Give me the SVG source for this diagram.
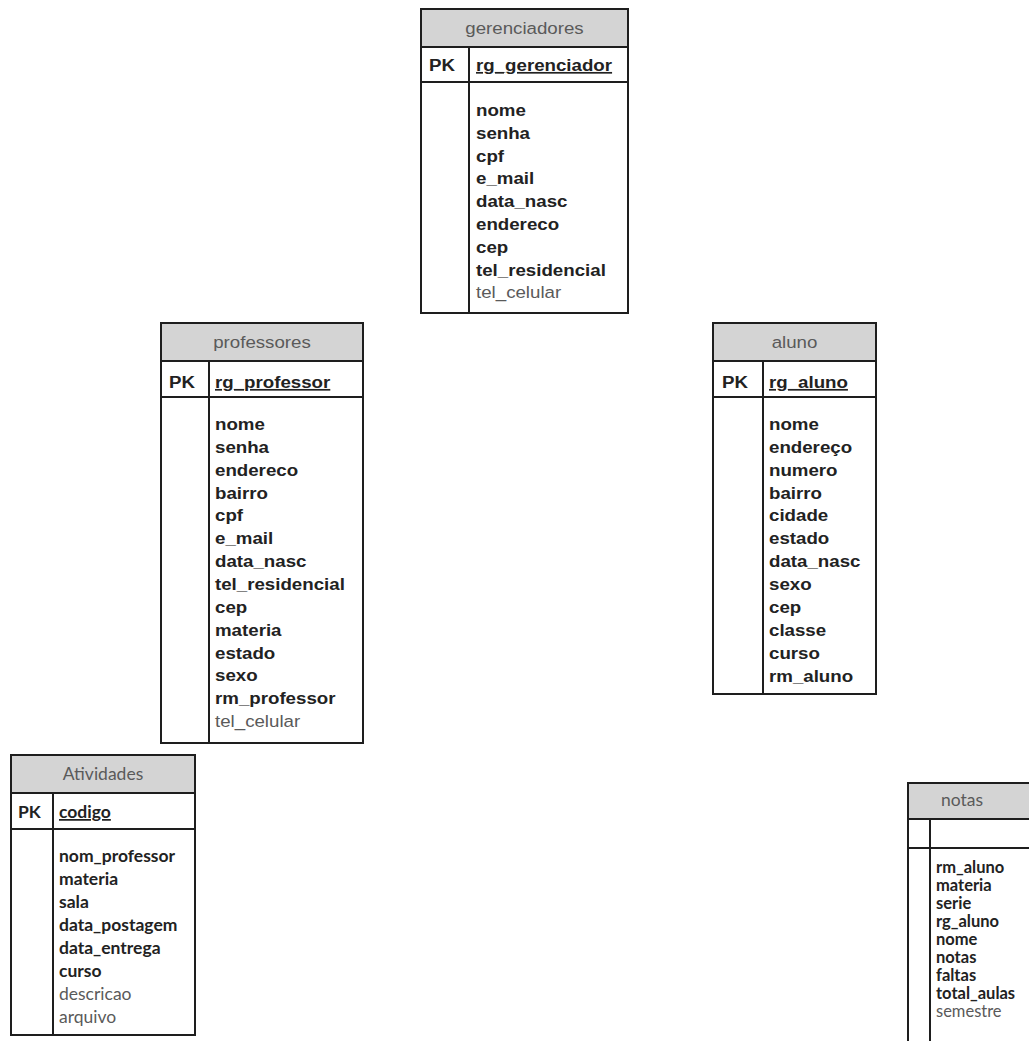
<svg xmlns="http://www.w3.org/2000/svg" width="1029" height="1041" viewBox="0 0 1029 1041">
<style>
.bg{fill:#fff}
.box{fill:#fff;stroke:#1e1e1e;stroke-width:2}
.hdr{fill:#d4d4d4;stroke:#1e1e1e;stroke-width:2}
.ln{stroke:#1e1e1e;stroke-width:2;fill:none}
.a{font-family:"Liberation Sans",Arial,sans-serif;font-size:17px}
.c{font-family:Lato,"Open Sans",sans-serif;font-size:17.5px}
.cs{font-family:Lato,"Open Sans",sans-serif;font-size:16.5px}
.b{font-weight:bold;fill:#222}
.n{font-weight:normal;fill:#5a5a5a}
.u{text-decoration:underline}
</style>
<rect class="bg" x="0" y="0" width="1029" height="1041"/>
<g id="connectors"></g>

<g id="gerenciadores">
<rect class="box" x="421" y="9" width="207" height="304"/>
<rect class="hdr" x="421" y="9" width="207" height="38"/>
<line class="ln" x1="421" y1="82" x2="628" y2="82"/>
<line class="ln" x1="469" y1="47" x2="469" y2="313"/>
<text class="a n" text-anchor="middle" transform="translate(524.5,34) scale(1.1,1)">gerenciadores</text>
<text class="a b" transform="translate(429,71) scale(1.1,1)">PK</text>
<text class="a b u" transform="translate(476,71) scale(1.1,1)">rg_gerenciador</text>
<text class="a b" transform="translate(476,116) scale(1.1,1)">nome</text>
<text class="a b" transform="translate(476,139) scale(1.1,1)">senha</text>
<text class="a b" transform="translate(476,162) scale(1.1,1)">cpf</text>
<text class="a b" transform="translate(476,184) scale(1.1,1)">e_mail</text>
<text class="a b" transform="translate(476,207) scale(1.1,1)">data_nasc</text>
<text class="a b" transform="translate(476,230) scale(1.1,1)">endereco</text>
<text class="a b" transform="translate(476,253) scale(1.1,1)">cep</text>
<text class="a b" transform="translate(476,276) scale(1.1,1)">tel_residencial</text>
<text class="a n" transform="translate(476,298) scale(1.1,1)">tel_celular</text>
</g>

<g id="professores">
<rect class="box" x="161" y="323" width="202" height="420"/>
<rect class="hdr" x="161" y="323" width="202" height="38"/>
<line class="ln" x1="161" y1="397" x2="363" y2="397"/>
<line class="ln" x1="209" y1="361" x2="209" y2="743"/>
<text class="a n" text-anchor="middle" transform="translate(262,348) scale(1.1,1)">professores</text>
<text class="a b" transform="translate(169,388) scale(1.1,1)">PK</text>
<text class="a b u" transform="translate(215,388) scale(1.1,1)">rg_professor</text>
<text class="a b" transform="translate(215,430) scale(1.1,1)">nome</text>
<text class="a b" transform="translate(215,453) scale(1.1,1)">senha</text>
<text class="a b" transform="translate(215,476) scale(1.1,1)">endereco</text>
<text class="a b" transform="translate(215,499) scale(1.1,1)">bairro</text>
<text class="a b" transform="translate(215,521) scale(1.1,1)">cpf</text>
<text class="a b" transform="translate(215,544) scale(1.1,1)">e_mail</text>
<text class="a b" transform="translate(215,567) scale(1.1,1)">data_nasc</text>
<text class="a b" transform="translate(215,590) scale(1.1,1)">tel_residencial</text>
<text class="a b" transform="translate(215,613) scale(1.1,1)">cep</text>
<text class="a b" transform="translate(215,636) scale(1.1,1)">materia</text>
<text class="a b" transform="translate(215,659) scale(1.1,1)">estado</text>
<text class="a b" transform="translate(215,681) scale(1.1,1)">sexo</text>
<text class="a b" transform="translate(215,704) scale(1.1,1)">rm_professor</text>
<text class="a n" transform="translate(215,727) scale(1.1,1)">tel_celular</text>
</g>

<g id="aluno">
<rect class="box" x="713" y="323" width="163" height="371"/>
<rect class="hdr" x="713" y="323" width="163" height="38"/>
<line class="ln" x1="713" y1="397" x2="876" y2="397"/>
<line class="ln" x1="763" y1="361" x2="763" y2="694"/>
<text class="a n" text-anchor="middle" transform="translate(794.5,348) scale(1.1,1)">aluno</text>
<text class="a b" transform="translate(722,388) scale(1.1,1)">PK</text>
<text class="a b u" transform="translate(769,388) scale(1.1,1)">rg_aluno</text>
<text class="a b" transform="translate(769,430) scale(1.1,1)">nome</text>
<text class="a b" transform="translate(769,453) scale(1.1,1)">endereço</text>
<text class="a b" transform="translate(769,476) scale(1.1,1)">numero</text>
<text class="a b" transform="translate(769,499) scale(1.1,1)">bairro</text>
<text class="a b" transform="translate(769,521) scale(1.1,1)">cidade</text>
<text class="a b" transform="translate(769,544) scale(1.1,1)">estado</text>
<text class="a b" transform="translate(769,567) scale(1.1,1)">data_nasc</text>
<text class="a b" transform="translate(769,590) scale(1.1,1)">sexo</text>
<text class="a b" transform="translate(769,613) scale(1.1,1)">cep</text>
<text class="a b" transform="translate(769,636) scale(1.1,1)">classe</text>
<text class="a b" transform="translate(769,659) scale(1.1,1)">curso</text>
<text class="a b" transform="translate(769,682) scale(1.1,1)">rm_aluno</text>
</g>

<g id="atividades">
<rect class="box" x="11" y="755" width="184" height="280"/>
<rect class="hdr" x="11" y="755" width="184" height="38"/>
<line class="ln" x1="11" y1="829" x2="195" y2="829"/>
<line class="ln" x1="53" y1="793" x2="53" y2="1035"/>
<text class="c n" text-anchor="middle" x="103" y="780">Atividades</text>
<text class="c b" x="18" y="818">PK</text>
<text class="c b u" x="59" y="818">codigo</text>
<text class="c b" x="59" y="862">nom_professor</text>
<text class="c b" x="59" y="885">materia</text>
<text class="c b" x="59" y="908">sala</text>
<text class="c b" x="59" y="931">data_postagem</text>
<text class="c b" x="59" y="954">data_entrega</text>
<text class="c b" x="59" y="977">curso</text>
<text class="c n" x="59" y="1000">descricao</text>
<text class="c n" x="59" y="1023">arquivo</text>
</g>

<g id="notas">
<rect class="box" x="908" y="783" width="130" height="265"/>
<rect class="hdr" x="908" y="783" width="130" height="36"/>
<line class="ln" x1="908" y1="848" x2="1038" y2="848"/>
<line class="ln" x1="930" y1="819" x2="930" y2="1048"/>
<text class="c n" text-anchor="middle" x="962" y="806">notas</text>
<text class="cs b" x="936" y="873">rm_aluno</text>
<text class="cs b" x="936" y="891">materia</text>
<text class="cs b" x="936" y="909">serie</text>
<text class="cs b" x="936" y="927">rg_aluno</text>
<text class="cs b" x="936" y="945">nome</text>
<text class="cs b" x="936" y="963">notas</text>
<text class="cs b" x="936" y="981">faltas</text>
<text class="cs b" x="936" y="999">total_aulas</text>
<text class="cs n" x="936" y="1017">semestre</text>
</g>
</svg>
